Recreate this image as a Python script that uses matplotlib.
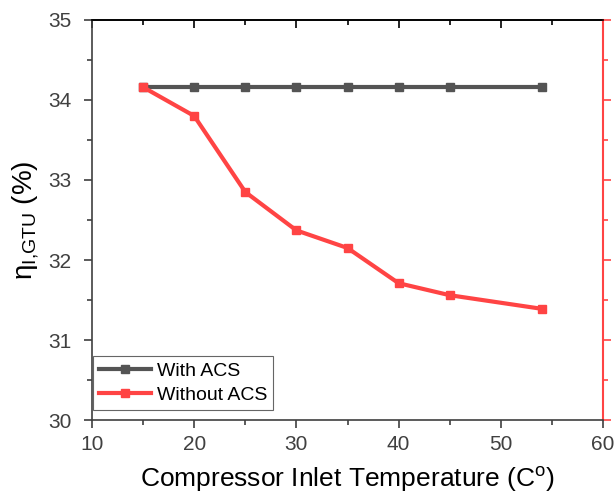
import matplotlib
matplotlib.use("Agg")
import matplotlib.pyplot as plt
from matplotlib.ticker import MultipleLocator

plt.rcParams['font.family'] = ['Liberation Sans', 'DejaVu Sans']
plt.rcParams['mathtext.fontset'] = 'custom'
plt.rcParams['mathtext.rm'] = 'Liberation Sans'
plt.rcParams['mathtext.it'] = 'Liberation Sans'

temperature = [15, 20, 25, 30, 35, 40, 45, 54]
eff_with_acs = [34.16, 34.16, 34.16, 34.16, 34.16, 34.16, 34.16, 34.16]
eff_without_acs = [34.16, 33.80, 32.85, 32.37, 32.15, 31.71, 31.56, 31.39]

dark = '#545454'
red = '#ff4444'
label_gray = '#404040'

fig = plt.figure(figsize=(6.15, 4.97), dpi=100)
ax = fig.add_axes([0.1496, 0.1549, 0.8309, 0.8049])

ax.plot(temperature, eff_with_acs, color=dark, lw=3, marker='s', ms=6, label='With ACS')
ax.plot(temperature, eff_without_acs, color=red, lw=3, marker='s', ms=6, label='Without ACS')

ax.set_xlim(10, 60)
ax.set_ylim(30, 35)
ax.xaxis.set_major_locator(MultipleLocator(10))
ax.xaxis.set_minor_locator(MultipleLocator(5))
ax.yaxis.set_major_locator(MultipleLocator(1))
ax.yaxis.set_minor_locator(MultipleLocator(0.5))

ax.tick_params(axis='both', which='major', direction='out', length=6, width=1.2,
               labelsize=15, labelcolor=label_gray, color=label_gray)
ax.tick_params(axis='both', which='minor', direction='out', length=3.5, width=1.2, color=label_gray)
ax.tick_params(axis='y', which='major', pad=9)
ax.tick_params(axis='x', which='major', pad=5)
ax.tick_params(axis='x', which='both', top=False)

for side in ['left', 'bottom']:
    ax.spines[side].set_color(label_gray)
    ax.spines[side].set_linewidth(1.2)
ax.spines['top'].set_color('black')
ax.spines['top'].set_linewidth(1.2)
ax.spines['right'].set_visible(False)

# top ticks point into the plot
ax_top = ax.secondary_xaxis('top')
ax_top.xaxis.set_major_locator(MultipleLocator(10))
ax_top.xaxis.set_minor_locator(MultipleLocator(5))
ax_top.tick_params(which='major', direction='in', length=6, width=1.2, labeltop=False, color='black')
ax_top.tick_params(which='minor', direction='in', length=3.5, width=1.2, color='black')
ax_top.spines['top'].set_color('black')
ax_top.spines['top'].set_linewidth(1.2)

# red right-hand axis without labels
ax_r = ax.secondary_yaxis('right')
ax_r.yaxis.set_major_locator(MultipleLocator(1))
ax_r.yaxis.set_minor_locator(MultipleLocator(0.5))
ax_r.tick_params(which='major', direction='out', length=6, width=1.2, color=red, labelright=False)
ax_r.tick_params(which='minor', direction='out', length=3.5, width=1.2, color=red)
ax_r.spines['right'].set_color(red)
ax_r.spines['right'].set_linewidth(1.5)

ax.set_xlabel('Compressor Inlet Temperature (C$^{\\mathrm{o}}$)', fontsize=19, labelpad=8)
ax.set_ylabel('$\\mathrm{\\eta_{I{,}GTU}}$ (%)', fontsize=20, labelpad=5)

leg = ax.legend(loc='lower left', bbox_to_anchor=(0.002, 0.025), borderaxespad=0,
                fontsize=14, frameon=True, fancybox=False, edgecolor=label_gray,
                handlelength=2.7, borderpad=0.3, labelspacing=0.35, handletextpad=0.3)
leg.get_frame().set_linewidth(0.8)

fig.savefig('out.png', dpi=100)
